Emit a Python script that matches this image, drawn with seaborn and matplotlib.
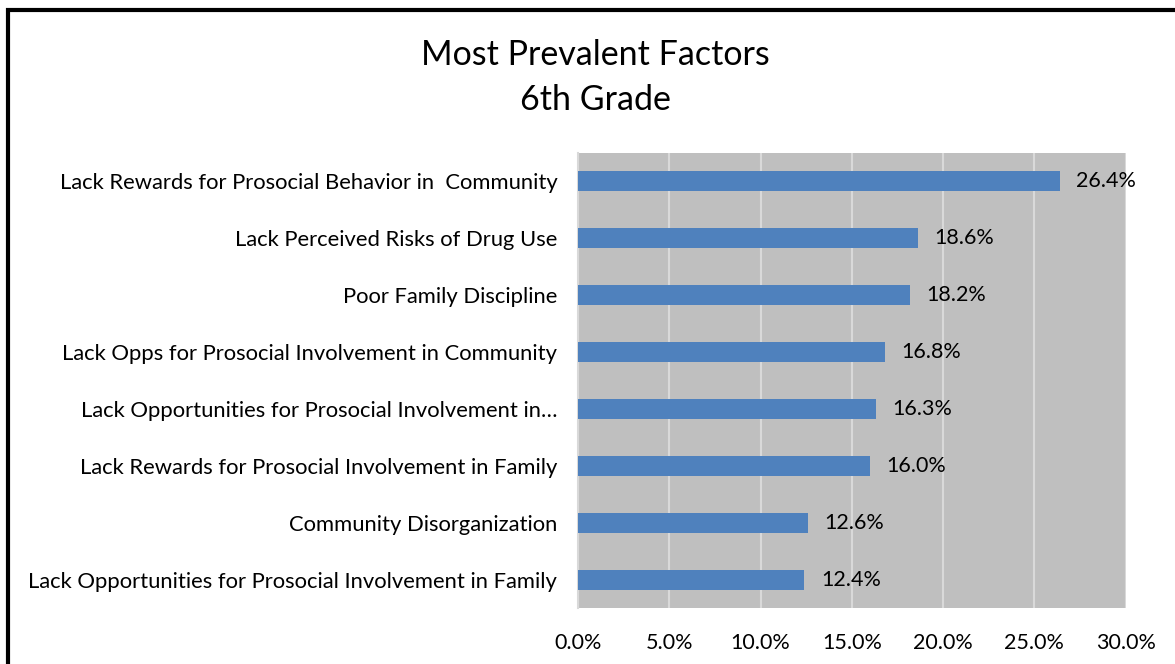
import matplotlib
matplotlib.use("Agg")
import matplotlib.pyplot as plt
import matplotlib.patches as mpatches
from matplotlib.ticker import PercentFormatter
import pandas as pd
import seaborn as sns

categories = [
    "Lack Rewards for Prosocial Behavior in  Community",
    "Lack Perceived Risks of Drug Use",
    "Poor Family Discipline",
    "Lack Opps for Prosocial Involvement in Community",
    "Lack Opportunities for Prosocial Involvement in\u2026",
    "Lack Rewards for Prosocial Involvement in Family",
    "Community Disorganization",
    "Lack Opportunities for Prosocial Involvement in Family",
]
values = [26.4, 18.6, 18.2, 16.8, 16.3, 16.0, 12.6, 12.4]
x_ticks = [0, 5, 10, 15, 20, 25, 30]

df = pd.DataFrame({"factor": categories, "pct": values})

sns.set_theme(style="white")
plt.rcParams["font.family"] = ["Lato", "DejaVu Sans"]

fig = plt.figure(figsize=(11.75, 6.64), dpi=100)
ax = fig.add_axes([0.492, 0.084, 0.466, 0.686])

sns.barplot(data=df, x="pct", y="factor", color="#4F81BD", width=0.35,
            saturation=1, linewidth=0, ax=ax, zorder=3)

ax.set_facecolor("#BFBFBF")
ax.set_xlim(0, 30)
ax.set_xticks(x_ticks)
ax.xaxis.set_major_formatter(PercentFormatter(decimals=1))
ax.grid(axis="x", color="#D9D9D9", linewidth=1.5, zorder=1)
ax.set_axisbelow(True)
for s in ["top", "right", "bottom"]:
    ax.spines[s].set_visible(False)
ax.spines["left"].set_color("#D9D9D9")
ax.spines["left"].set_linewidth(1.5)
ax.set_xlabel("")
ax.set_ylabel("")
ax.tick_params(axis="x", labelsize=15.5, pad=18, length=0, colors="black")
ax.tick_params(axis="y", labelsize=15.8, pad=15, length=0, colors="black")

for p, v in zip(ax.patches, values):
    ax.text(p.get_width() + 0.9, p.get_y() + p.get_height() / 2, f"{v:.1f}%",
            va="center", ha="left", fontsize=15.5, color="black", zorder=4)

fig.text(0.507, 0.883, "Most Prevalent Factors\n6th Grade", ha="center", va="center",
         fontsize=24.5, linespacing=1.5, color="black")

# outer chart frame, cut off at right and bottom like the source
frame = mpatches.Rectangle((8 / 1175, -0.05), 1.1, 1 - 9.5 / 664 + 0.05,
                           transform=fig.transFigure, fill=False,
                           edgecolor="black", linewidth=3, clip_on=False)
fig.patches.append(frame)

fig.savefig("out.png", dpi=100)
